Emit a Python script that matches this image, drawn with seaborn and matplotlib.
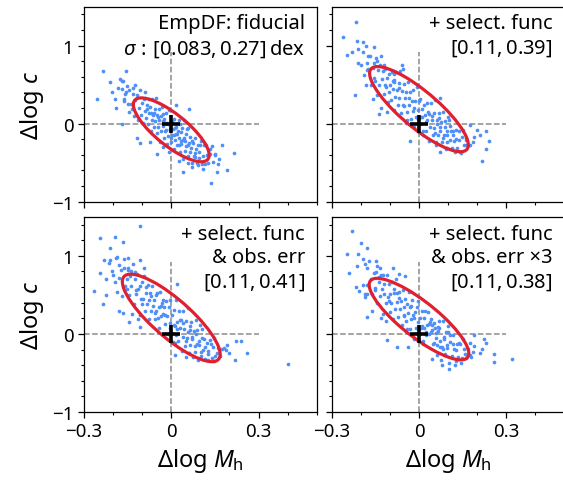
import numpy as np
import pandas as pd
import seaborn as sns
import matplotlib
matplotlib.use("Agg")
import matplotlib.pyplot as plt
from matplotlib.patches import Ellipse
from matplotlib.ticker import MultipleLocator

# scatter points (dlogMh, dlogc)
pts_fiducial = [
    (-0.234, 0.668), (-0.157, 0.668), (-0.177, 0.574), (-0.166, 0.545), (-0.152, 0.481), (-0.123, 0.498),
    (-0.184, 0.455), (-0.168, 0.447), (-0.255, 0.319), (-0.192, 0.311), (-0.161, 0.319), (-0.131, 0.383),
    (-0.189, 0.200), (-0.134, 0.191), (-0.169, -0.004), (-0.117, -0.183), (-0.108, -0.243), (-0.074, -0.234),
    (-0.048, -0.396), (-0.008, -0.362), (0.028, -0.477), (0.057, -0.511), (0.041, -0.626), (0.141, -0.289),
    (0.176, -0.268), (0.214, -0.383), (0.193, -0.596), (0.159, -0.523), (0.156, -0.617), (0.138, -0.766),
    (0.015, 0.234), (0.061, 0.191),
    (-0.147, 0.43), (-0.139, 0.25), (-0.133, 0.46), (-0.126, 0.30), (-0.122, 0.11), (-0.117, 0.37),
    (-0.112, 0.20), (-0.108, 0.43), (-0.105, 0.11), (-0.101, 0.27), (-0.098, 0.01), (-0.094, 0.32),
    (-0.091, 0.16), (-0.089, 0.41), (-0.086, 0.07), (-0.083, 0.19), (-0.080, 0.00), (-0.078, 0.31),
    (-0.075, 0.13), (-0.072, 0.21), (-0.070, -0.10), (-0.067, 0.04), (-0.065, 0.31), (-0.062, 0.115),
    (-0.060, -0.04), (-0.057, 0.19), (-0.055, 0.03), (-0.053, 0.33), (-0.050, -0.12), (-0.048, 0.11),
    (-0.046, -0.04), (-0.043, 0.19), (-0.041, 0.04), (-0.039, -0.23), (-0.036, 0.10), (-0.034, -0.10),
    (-0.032, 0.21), (-0.029, -0.03), (-0.027, 0.12), (-0.025, -0.18), (-0.022, 0.01), (-0.020, -0.10),
    (-0.018, 0.13), (-0.015, -0.26), (-0.013, 0.01), (-0.011, -0.16), (-0.008, 0.17), (-0.006, -0.08),
    (-0.004, 0.01), (-0.001, -0.24), (0.002, 0.03), (0.004, -0.15), (0.006, -0.07), (0.009, -0.32),
    (0.011, 0.06), (0.013, -0.21), (0.016, -0.13), (0.018, -0.05), (0.020, -0.28), (0.023, -0.10),
    (0.025, -0.19), (0.027, 0.04), (0.030, -0.36), (0.032, -0.11), (0.034, -0.26), (0.037, -0.06),
    (0.039, -0.21), (0.042, -0.46), (0.044, -0.18), (0.047, -0.35), (0.049, -0.13), (0.052, -0.29),
    (0.055, -0.07), (0.057, -0.42), (0.060, -0.25), (0.063, -0.36), (0.066, -0.17), (0.068, -0.31),
    (0.071, -0.50), (0.074, -0.25), (0.077, -0.42), (0.080, -0.18), (0.083, -0.38), (0.086, -0.32),
    (0.089, -0.51), (0.093, -0.28), (0.096, -0.44), (0.100, -0.27), (0.104, -0.52), (0.108, -0.41),
    (0.112, -0.27), (0.117, -0.52), (0.122, -0.40), (0.128, -0.51), (0.134, -0.39), (-0.155, 0.41),
    (-0.162, 0.29), (-0.171, 0.55), (0.145, -0.49), (0.152, -0.39), (-0.003, -0.07), (0.008, -0.15),
    (-0.017, -0.08), (0.021, -0.13), (-0.030, 0.03), (0.035, -0.22), (-0.044, 0.09), (0.046, -0.225),
    (0.014, -0.06), (-0.010, 0.00), (0.000, -0.19), (-0.024, 0.06), (0.028, -0.27), (0.058, -0.27),
    (-0.058, 0.13), (0.070, -0.22), (-0.069, 0.13), (0.082, -0.43), (-0.084, 0.24), (0.095, -0.36),
    (-0.150, 0.25), (-0.145, 0.15), (-0.128, 0.10), (-0.115, 0.05), (0.044, 0.04), (0.058, -0.06),
    (0.102, -0.22), (0.118, -0.28), (0.132, -0.33), (0.150, -0.40), (0.165, -0.45), (0.092, -0.53),
    (0.110, -0.58), (0.070, -0.55), (-0.090, 0.33), (-0.160, 0.38), (-0.205, 0.40), (-0.210, 0.53),
    (-0.030, -0.30), (0.030, -0.01),
]

pts_selfunc = [
    (-0.216, 1.298), (-0.262, 1.106), (-0.214, 1.055), (-0.191, 1.043), (-0.248, 0.885), (-0.211, 0.957),
    (-0.193, 0.915), (-0.211, 0.774), (-0.177, 0.779), (-0.153, 0.979), (-0.156, 0.774), (-0.220, 0.362),
    (-0.179, 0.681), (-0.159, 0.311), (-0.139, 0.128), (-0.087, 0.638), (-0.059, 0.753), (-0.055, 0.694),
    (-0.087, 0.532), (-0.032, -0.221), (0.074, 0.328), (0.177, -0.013), (0.200, -0.085), (0.211, -0.149),
    (0.229, -0.098), (0.240, -0.226), (0.232, -0.328), (0.215, -0.481), (0.177, -0.277), (0.097, -0.319),
    (0.160, -0.213),
    (-0.182, 1.00), (-0.175, 0.70), (-0.169, 0.86), (-0.164, 0.49), (-0.158, 0.71), (-0.153, 0.58),
    (-0.149, 0.84), (-0.144, 0.37), (-0.140, 0.69), (-0.136, 0.49), (-0.132, 0.87), (-0.128, 0.57),
    (-0.124, 0.68), (-0.120, 0.38), (-0.117, 0.70), (-0.113, 0.47), (-0.110, 0.58), (-0.106, 0.28),
    (-0.103, 0.63), (-0.100, 0.50), (-0.097, 0.30), (-0.094, 0.66), (-0.091, 0.44), (-0.088, 0.54),
    (-0.085, 0.17), (-0.082, 0.34), (-0.079, 0.66), (-0.076, 0.43), (-0.073, 0.24), (-0.070, 0.52),
    (-0.067, 0.33), (-0.064, 0.68), (-0.061, 0.14), (-0.058, 0.42), (-0.055, 0.24), (-0.052, 0.51),
    (-0.049, 0.33), (-0.046, 0.01), (-0.043, 0.40), (-0.040, 0.15), (-0.037, 0.53), (-0.034, 0.24),
    (-0.031, 0.41), (-0.028, 0.06), (-0.025, 0.29), (-0.022, 0.16), (-0.019, 0.43), (-0.016, -0.04),
    (-0.013, 0.29), (-0.010, 0.09), (-0.007, 0.47), (-0.004, 0.18), (-0.001, 0.29), (0.002, -0.01),
    (0.005, 0.31), (0.008, 0.08), (0.011, 0.19), (0.014, -0.10), (0.017, 0.24), (0.020, 0.11),
    (0.023, -0.09), (0.026, 0.27), (0.029, 0.05), (0.032, 0.15), (0.035, -0.22), (0.038, -0.05),
    (0.041, 0.27), (0.044, 0.04), (0.047, -0.15), (0.050, 0.14), (0.053, -0.06), (0.056, 0.30),
    (0.059, -0.24), (0.062, 0.04), (0.065, -0.14), (0.068, 0.13), (0.071, -0.04), (0.074, -0.37),
    (0.077, 0.02), (0.080, -0.23), (0.083, 0.15), (0.086, -0.14), (0.089, 0.03), (0.092, -0.33),
    (0.095, -0.10), (0.098, -0.23), (0.102, 0.04), (0.105, -0.21), (0.109, -0.10), (0.113, -0.31),
    (0.117, -0.09), (0.121, -0.22), (0.126, -0.08), (0.131, -0.31), (0.136, -0.21), (0.142, -0.37),
    (0.148, -0.17), (0.155, -0.28), (0.163, -0.19), (0.171, -0.28),
    (0.046, 0.10), (0.061, 0.00), (0.073, -0.10), (0.088, -0.05), (0.097, -0.15), (0.108, -0.03),
    (0.118, -0.14), (0.127, -0.20), (0.138, -0.10), (0.069, 0.07), (0.054, -0.12), (0.082, -0.18),
    (0.035, 0.12), (0.024, 0.02), (0.012, 0.09), (-0.003, 0.06), (-0.018, 0.20), (-0.033, 0.33),
    (-0.052, 0.22), (-0.068, 0.45), (-0.085, 0.56), (-0.102, 0.40), (-0.118, 0.50), (-0.135, 0.75),
    (-0.150, 0.55), (0.100, 0.09), (0.150, -0.08), (0.160, -0.27), (0.015, -0.14), (-0.040, 0.05),
    (-0.190, 0.62), (-0.182, 0.50), (-0.175, 0.86), (-0.145, 0.80), (-0.120, 0.75), (-0.130, 0.20),
    (-0.110, 0.15), (0.190, -0.17), (0.125, -0.36), (0.060, -0.28), (0.145, -0.38), (0.185, -0.24),
    (-0.200, 0.75), (-0.230, 0.92),
]

pts_obserr = [
    (-0.108, 1.387), (-0.244, 1.226), (-0.192, 1.238), (-0.166, 1.183), (-0.211, 1.098), (-0.232, 0.949),
    (-0.209, 0.949), (-0.215, 0.906), (-0.189, 0.970), (-0.149, 0.979), (-0.106, 0.949), (-0.246, 0.779),
    (-0.200, 0.749), (-0.163, 0.843), (-0.094, 0.851), (-0.267, 0.553), (-0.225, 0.502), (-0.234, 0.383),
    (-0.166, 0.268), (-0.146, 0.153), (-0.108, 0.085), (0.021, 0.638), (0.013, -0.264), (0.049, -0.298),
    (0.101, -0.285), (0.182, -0.179), (0.199, -0.243), (0.222, -0.094), (0.239, -0.085), (0.218, -0.328),
    (0.260, -0.243), (0.400, -0.391),
    (-0.186, 0.98), (-0.180, 0.72), (-0.174, 0.82), (-0.168, 0.49), (-0.163, 0.96), (-0.158, 0.61),
    (-0.153, 0.71), (-0.149, 0.82), (-0.145, 0.50), (-0.141, 0.74), (-0.137, 0.62), (-0.133, 0.90),
    (-0.129, 0.38), (-0.125, 0.71), (-0.121, 0.51), (-0.117, 0.77), (-0.113, 0.57), (-0.109, 0.24),
    (-0.106, 0.61), (-0.102, 0.38), (-0.099, 0.66), (-0.096, 0.45), (-0.093, 0.74), (-0.090, 0.29),
    (-0.087, 0.52), (-0.084, 0.38), (-0.081, 0.63), (-0.078, 0.43), (-0.075, 0.19), (-0.072, 0.52),
    (-0.069, 0.30), (-0.066, 0.62), (-0.063, 0.36), (-0.060, 0.44), (-0.057, 0.19), (-0.054, 0.50),
    (-0.051, 0.29), (-0.048, 0.53), (-0.045, 0.21), (-0.042, 0.35), (-0.039, 0.54), (-0.036, 0.23),
    (-0.033, 0.39), (-0.030, 0.26), (-0.027, 0.43), (-0.024, 0.35), (-0.021, 0.13), (-0.018, 0.42),
    (-0.015, 0.23), (-0.012, 0.00), (-0.009, 0.34), (-0.006, 0.14), (-0.003, 0.44), (0.000, 0.03),
    (0.003, 0.24), (0.006, -0.10), (0.009, 0.31), (0.012, 0.10), (0.015, 0.43), (0.018, -0.01),
    (0.021, 0.15), (0.024, -0.09), (0.027, 0.30), (0.030, 0.07), (0.033, 0.18), (0.036, -0.22),
    (0.039, -0.04), (0.042, 0.30), (0.045, 0.06), (0.048, -0.15), (0.051, 0.16), (0.054, -0.05),
    (0.057, 0.33), (0.060, -0.25), (0.063, 0.05), (0.066, -0.14), (0.069, 0.15), (0.072, -0.04),
    (0.075, -0.29), (0.078, 0.04), (0.081, -0.23), (0.084, 0.18), (0.087, -0.13), (0.090, 0.05),
    (0.093, -0.33), (0.097, -0.09), (0.101, -0.23), (0.105, 0.06), (0.109, -0.21), (0.113, -0.07),
    (0.117, -0.32), (0.122, -0.11), (0.127, -0.22), (0.133, -0.08), (0.139, -0.31), (0.145, -0.17),
    (0.152, -0.28), (0.160, -0.18), (0.168, -0.28), (0.176, -0.19),
    (0.040, 0.14), (0.058, 0.03), (0.071, -0.07), (0.086, 0.00), (0.095, -0.14), (0.106, -0.05),
    (0.116, -0.17), (0.125, -0.26), (0.137, -0.13), (0.066, 0.10), (0.050, -0.09), (0.080, -0.16),
    (0.030, 0.18), (0.020, 0.06), (0.008, 0.12), (-0.005, 0.08), (-0.020, 0.24), (-0.035, 0.36),
    (-0.055, 0.27), (-0.070, 0.48), (-0.088, 0.60), (-0.105, 0.45), (-0.120, 0.56), (-0.138, 0.80),
    (-0.152, 0.58), (0.100, 0.12), (0.148, -0.05), (0.158, -0.25), (0.012, -0.12), (-0.042, 0.08),
    (-0.195, 0.66), (-0.186, 0.54), (-0.180, 0.88), (-0.150, 0.84), (-0.125, 0.79), (-0.135, 0.25),
    (-0.115, 0.19), (0.192, -0.14), (0.128, -0.33), (0.062, -0.25), (0.148, -0.35), (0.188, -0.21),
    (-0.205, 0.80), (-0.225, 0.70), (-0.180, 0.30),
]

pts_obserr3 = [
    (-0.231, 1.323), (-0.200, 1.162), (-0.248, 1.021), (-0.208, 1.021), (-0.179, 1.098), (-0.191, 0.957),
    (-0.185, 0.894), (-0.214, 0.872), (-0.241, 0.787), (-0.145, 0.872), (-0.133, 0.851), (-0.091, 0.843),
    (-0.067, 0.766), (-0.047, 0.745), (-0.216, 0.596), (-0.206, 0.553), (-0.179, 0.511), (-0.179, 0.213),
    (-0.076, -0.170), (-0.036, -0.170), (0.045, -0.315), (0.102, -0.455), (0.189, -0.017), (0.177, -0.115),
    (0.225, -0.064), (0.217, -0.187), (0.257, -0.255), (0.257, -0.362), (0.321, -0.315), (0.177, -0.264),
    (0.211, -0.243),
    (-0.184, 0.47), (-0.178, 0.63), (-0.172, 0.94), (-0.166, 0.71), (-0.161, 0.51), (-0.156, 0.78),
    (-0.151, 0.59), (-0.147, 0.94), (-0.143, 0.39), (-0.139, 0.67), (-0.135, 0.49), (-0.131, 0.76),
    (-0.127, 0.57), (-0.123, 0.25), (-0.119, 0.64), (-0.115, 0.39), (-0.111, 0.76), (-0.107, 0.47),
    (-0.104, 0.64), (-0.101, 0.28), (-0.098, 0.51), (-0.095, 0.39), (-0.092, 0.66), (-0.089, 0.19),
    (-0.086, 0.52), (-0.083, 0.32), (-0.080, 0.70), (-0.077, 0.41), (-0.074, 0.52), (-0.071, 0.22),
    (-0.068, 0.54), (-0.065, 0.32), (-0.062, 0.42), (-0.059, 0.12), (-0.056, 0.56), (-0.053, 0.24),
    (-0.050, 0.35), (-0.047, 0.45), (-0.044, 0.16), (-0.041, 0.38), (-0.038, 0.27), (-0.035, 0.54),
    (-0.032, 0.06), (-0.029, 0.36), (-0.026, 0.19), (-0.023, 0.43), (-0.020, 0.24), (-0.017, -0.06),
    (-0.014, 0.28), (-0.011, 0.08), (-0.008, 0.34), (-0.005, 0.15), (-0.002, 0.42), (0.001, 0.00),
    (0.004, 0.20), (0.007, 0.07), (0.010, 0.30), (0.013, -0.09), (0.016, 0.21), (0.019, 0.08),
    (0.022, 0.30), (0.025, -0.02), (0.028, 0.11), (0.031, 0.28), (0.034, 0.00), (0.037, 0.15),
    (0.040, 0.03), (0.043, 0.19), (0.046, 0.05), (0.049, -0.13), (0.052, 0.14), (0.055, 0.08),
    (0.058, -0.05), (0.061, -0.14), (0.064, 0.09), (0.067, 0.04), (0.070, 0.17), (0.073, -0.17),
    (0.076, -0.34), (0.079, -0.17), (0.082, 0.16), (0.085, -0.07), (0.088, -0.26), (0.092, 0.02),
    (0.096, -0.18), (0.100, 0.03), (0.104, -0.37), (0.108, -0.10), (0.112, -0.28), (0.116, -0.01),
    (0.120, -0.19), (0.125, -0.40), (0.130, -0.13), (0.135, -0.29), (0.141, -0.13), (0.147, -0.31),
    (0.154, -0.19), (0.161, -0.31), (0.169, -0.19), (0.178, -0.30),
    (0.044, 0.11), (0.059, 0.01), (0.072, -0.09), (0.087, -0.04), (0.096, -0.14), (0.107, -0.02),
    (0.117, -0.13), (0.126, -0.21), (0.138, -0.11), (0.068, 0.08), (0.053, -0.11), (0.081, -0.19),
    (0.034, 0.13), (0.023, 0.03), (0.011, 0.10), (-0.002, 0.07), (-0.017, 0.21), (-0.032, 0.34),
    (-0.051, 0.23), (-0.067, 0.46), (-0.086, 0.57), (-0.103, 0.42), (-0.119, 0.51), (-0.136, 0.73),
    (-0.151, 0.56), (0.101, 0.10), (0.151, -0.07), (0.159, -0.26), (0.014, -0.13), (-0.041, 0.06),
    (-0.192, 0.63), (-0.184, 0.51), (-0.177, 0.84), (-0.147, 0.79), (-0.122, 0.76), (-0.132, 0.21),
    (-0.112, 0.16), (0.190, -0.16), (0.126, -0.35), (0.061, -0.27), (0.146, -0.37), (0.186, -0.23),
    (-0.110, -0.08), (-0.160, 0.30), (0.230, -0.12), (0.080, -0.40),
]

panel_names = ["fiducial", "selfunc", "obserr", "obserr3"]
panel_points = [pts_fiducial, pts_selfunc, pts_obserr, pts_obserr3]
panel_labels = [
    "EmpDF: fiducial\n$\\sigma\\,:\\,[0.083, 0.27]\\,\\mathrm{dex}$",
    "+ select. func\n$[0.11, 0.39]$",
    "+ select. func\n& obs. err\n$[0.11, 0.41]$",
    "+ select. func\n& obs. err \u00d73\n$[0.11, 0.38]$",
]

# 68% ellipse: centre, sigma_M, sigma_c, correlation
ell_cx = [0.0, 0.0, 0.0, 0.0]
ell_cy = [-0.08, 0.185, 0.205, 0.19]
ell_sx = [0.086, 0.112, 0.111, 0.113]
ell_sy = [0.27, 0.36, 0.37, 0.345]
ell_rho = [-0.79, -0.84, -0.83, -0.84]
ell_k = 1.515

sns.set_style("ticks")
plt.rcParams["font.family"] = ["Noto Sans", "DejaVu Sans"]
plt.rcParams["mathtext.fontset"] = "custom"
plt.rcParams["mathtext.rm"] = "Noto Sans"
plt.rcParams["mathtext.it"] = "Noto Sans:italic"
plt.rcParams["mathtext.bf"] = "Noto Sans:bold"
plt.rcParams["axes.linewidth"] = 0.9
plt.rcParams["axes.edgecolor"] = "black"
plt.rcParams["text.color"] = "black"
plt.rcParams["axes.labelcolor"] = "black"
plt.rcParams["xtick.color"] = "black"
plt.rcParams["ytick.color"] = "black"

rows = []
for name, pts in zip(panel_names, panel_points):
    for x, y in pts:
        rows.append({"panel": name, "dM": x, "dc": y})
df = pd.DataFrame(rows)

fig = plt.figure(figsize=(5.63, 4.81), dpi=100)
axes = fig.subplots(2, 2, sharex=True, sharey=True)
fig.subplots_adjust(left=0.1492, right=1.0025, bottom=0.1414, top=0.9844,
                    wspace=0.0645, hspace=0.078)

for i, ax in enumerate(axes.flat):
    sub = df[df["panel"] == panel_names[i]]
    ax.plot([-0.3, 0.3], [0, 0], ls="--", color="#8c8c8c", lw=1.1, zorder=1)
    ax.plot([0, 0], [-1, 0.92], ls="--", color="#8c8c8c", lw=1.1, zorder=1)
    sns.scatterplot(data=sub, x="dM", y="dc", ax=ax, s=7, color="#4f8ff7",
                    linewidth=0, zorder=2, legend=False)

    cov = np.array([[ell_sx[i] ** 2, ell_rho[i] * ell_sx[i] * ell_sy[i]],
                    [ell_rho[i] * ell_sx[i] * ell_sy[i], ell_sy[i] ** 2]])
    vals, vecs = np.linalg.eigh(cov)
    ang = np.degrees(np.arctan2(vecs[1, 1], vecs[0, 1]))
    ax.add_patch(Ellipse((ell_cx[i], ell_cy[i]), 2 * ell_k * np.sqrt(vals[1]),
                         2 * ell_k * np.sqrt(vals[0]), angle=ang, fill=False,
                         edgecolor="#e0202e", lw=2.3, zorder=3))
    ax.plot([0], [0], marker="+", color="black", ms=13, mew=2.6, zorder=4)

    ax.text(0.95, 0.965, panel_labels[i], transform=ax.transAxes, ha="right",
            va="top", fontsize=14.5, linespacing=1.25, multialignment="right",
            color="black")

    ax.set_xlim(-0.3, 0.5)
    ax.set_ylim(-1, 1.5)
    ax.set_xticks([-0.3, 0, 0.3])
    ax.set_xticklabels(["\u22120.3", "0", "0.3"])
    ax.set_yticks([-1, 0, 1])
    ax.set_yticklabels(["\u22121", "0", "1"])
    ax.xaxis.set_minor_locator(MultipleLocator(0.1))
    ax.yaxis.set_minor_locator(MultipleLocator(0.2))
    ax.tick_params(which="major", direction="out", length=4, width=0.9,
                   labelsize=13.5, colors="black")
    ax.tick_params(which="minor", direction="out", length=2.4, width=0.8,
                   colors="black")
    ax.set_xlabel("")
    ax.set_ylabel("")
    for sp in ax.spines.values():
        sp.set_visible(True)
        sp.set_color("black")

for ax in axes[:, 0]:
    ax.set_ylabel("\u0394log $c$", fontsize=17, color="black")
for ax in axes[1, :]:
    ax.set_xlabel("\u0394log $M_\\mathrm{h}$", fontsize=17, color="black")

fig.savefig("out.png", dpi=100)
